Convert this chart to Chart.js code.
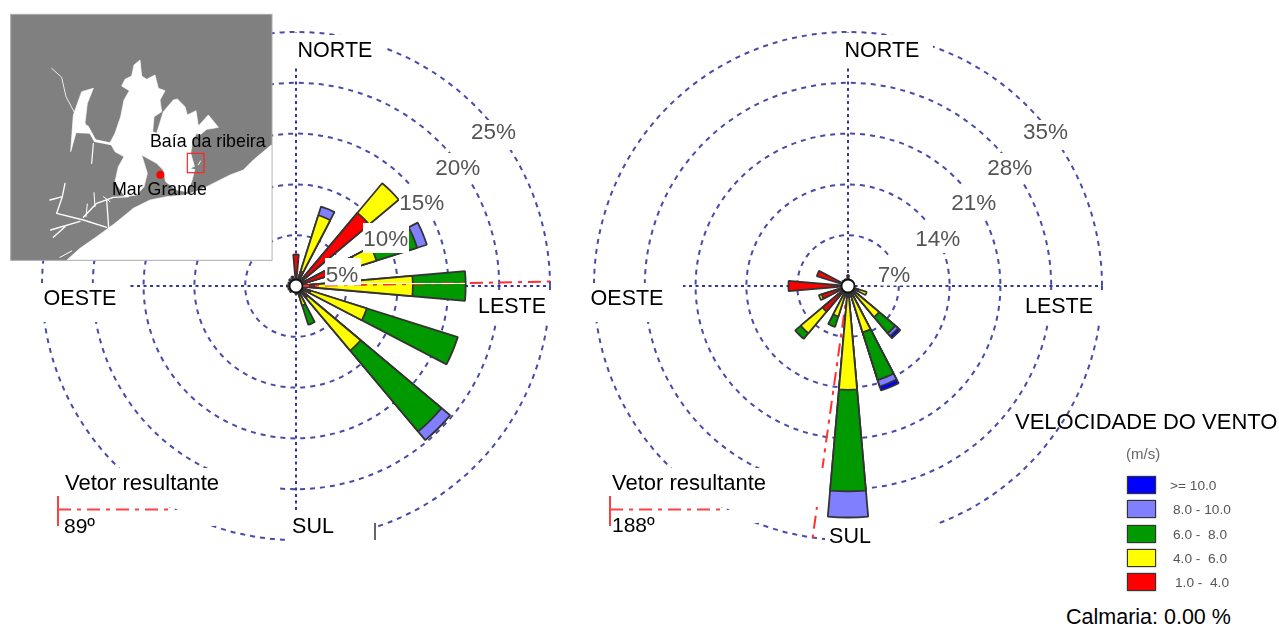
<!DOCTYPE html>
<html><head><meta charset="utf-8">
<style>
html,body{margin:0;padding:0;background:#fff;width:1279px;height:626px;overflow:hidden}
canvas{position:absolute;filter:blur(0.45px)}
.t{position:absolute;font-family:"Liberation Sans",Arial,sans-serif;white-space:pre;line-height:1}
.sw{position:absolute;width:27px;height:16px;border:1.5px solid #333;box-shadow:0 0 1.5px #777;box-sizing:content-box}
svg{position:absolute;left:0;top:0;filter:blur(0.5px)}
#legend .t{filter:blur(0.35px)}
</style>
<script src="https://cdn.jsdelivr.net/npm/chart.js@4"></script>
</head><body>
<canvas id="c1" width="520" height="520" style="left:36px;top:26px"></canvas>
<canvas id="c2" width="520" height="520" style="left:588px;top:26px"></canvas>

<svg width="290" height="270" viewBox="0 0 870 810">
<rect x="32" y="43" width="784" height="738" fill="#808080" stroke="#aaa" stroke-width="3"/>
<g fill="#fff" stroke="#fff" stroke-width="2" stroke-linejoin="round">
<path d="M202,779 L240,745 L290,710 L345,670 L400,625 L450,600 L500,590 L555,585 L600,570 L650,545 L690,525 L730,510 L760,480 L814,435 L814,779 Z"/>
<path d="M345,545 L355,500 L372,470 L345,455 L330,428 L345,400 L362,350 L372,300 L388,272 L365,258 L375,238 L395,228 L402,195 L420,180 L425,228 L440,238 L465,225 L475,265 L495,272 L480,300 L485,335 L462,350 L458,395 L470,400 L490,335 L520,300 L532,297 L555,320 L562,345 L588,332 L595,378 L625,345 L655,382 L640,385 L620,388 L600,405 L590,400 L578,422 L572,460 L585,505 L575,545 L560,575 L530,570 L497,545 L490,510 L470,490 L425,465 L442,520 L432,560 L410,585 L375,590 Z"/>
<path d="M245,275 L280,265 L262,310 L255,368 L270,400 L228,398 L212,455 L220,345 Z"/>
</g>
<g fill="none" stroke="#fff" stroke-linejoin="round" stroke-linecap="round">
<path d="M155,205 L185,232 L198,290 L222,335" stroke-width="2.5"/>
<path d="M262,380 L285,422 L335,432" stroke-width="8"/>
<path d="M280,430 L275,490" stroke-width="3.5"/>
<path d="M195,550 L187,590 L150,600 M187,590 L170,640 L250,660 L320,682" stroke-width="4"/>
<path d="M152,690 L240,664 M160,712 L195,680 M320,600 L326,682 M250,652 L290,610 L340,592 L385,590" stroke-width="4"/>
<path d="M282,578 L285,620 M262,612 L258,650 M310,590 L330,605" stroke-width="3"/>
<path d="M180,772 L215,753" stroke-width="3"/>
</g>
<path d="M572,505 L590,498 L604,480 L606,512 Z" fill="#808080"/>
<path d="M595,495 L602,482" stroke="#fff" stroke-width="3"/>
<rect x="562" y="460" width="50" height="58" fill="none" stroke="#f22" stroke-width="3.5"/>
<circle cx="481" cy="524" r="12" fill="#f00"/>
</svg>
<div class="t" style="left:150px;top:133px;font-size:17.8px">Baía da ribeira</div>
<div class="t" style="left:112px;top:181px;font-size:17.8px">Mar Grande</div>

<div class="t" style="left:1015px;top:411px;font-size:22px">VELOCIDADE DO VENTO</div>
<div class="t" style="left:1126px;top:446px;font-size:15px;color:#666;filter:blur(0.35px)">(m/s)</div>
<div class="t" style="left:1066px;top:607px;font-size:21.5px">Calmaria: 0.00 %</div>
<div id="legend"></div>

<script>
// Wind directions, clockwise from north
const directions = ['N','NNE','NE','ENE','E','ESE','SE','SSE','S','SSW','SW','WSW','W','WNW','NW','NNW'];
// Speed classes (m/s), lowest first
const bandNames  = ['1.0 -  4.0','4.0 -  6.0','6.0 -  8.0','8.0 - 10.0','>= 10.0'];
const bandColors = ['#ff0000','#ffff00','#009900','#8080ff','#0000ff'];

// Left rose: frequency (%) per direction and class
const leftRed    = [3.1,1.5,9.4,6.2,1.9,1.5,1.5,1.0,0.8,0.5,0.8,0.8,0.9,0.8,0.9,1.0];
const leftYellow = [0,5.8,3.8,2.1,9.6,5.8,6.8,1.0,0,0,0,0,0,0,0,0];
const leftGreen  = [0,0,0,4.2,5.2,9.4,10.4,2.0,0,0,0,0,0,0,0,0];
const leftLight  = [0,0.9,0,1.0,0,0,1.1,0,0,0,0,0,0,0,0,0];
const leftBlue   = [0,0,0,0,0,0,0,0,0,0,0,0,0,0,0,0];
const leftTicks  = [5,10,15,20,25];
const leftResultant = 89;

// Right rose: frequency (%) per direction and class
const rightRed    = [1.5,0.9,0.9,0.9,0.9,1.5,1.2,1.5,1.5,1.0,4.6,3.8,8.2,4.5,1.0,1.0];
const rightYellow = [0,0,0,0,0,1.2,4.4,5.2,12.8,3.4,3.9,0.4,0,0,0,0];
const rightGreen  = [0,0,0,0,0,0,2.9,6.9,14.0,1.5,1.0,0,0,0,0,0];
const rightLight  = [0,0,0,0,0,0,0.5,0.9,3.6,0,0,0,0,0,0,0];
const rightBlue   = [0,0,0,0,0,0,0.4,0.6,0,0,0,0,0,0,0,0];
const rightTicks  = [7,14,21,28,35];
const rightResultant = 188;

const GRID = '#4a4aa8', AXIS='#3535a0', WEDGE = 10, STEP = 22.5;
const FONT = '"Liberation Sans",Arial,sans-serif';

function buildRose(id, left, bands, ticks, resultant, cfg){
  // 32 slots: one gap then one wedge; the north wedge comes last and wraps past 360
  const order = directions.map((_,i)=>(i+1)%16);
  const labels = [];
  order.forEach(i=>{labels.push(''); labels.push(directions[i]);});
  const cum = new Array(16).fill(0);
  const datasets = bands.map((b,k)=>{
    b.forEach((v,i)=>cum[i]+=v);
    const data = [];
    order.forEach(i=>{data.push(0); data.push(b[i]>0?+cum[i].toFixed(2):0);});
    return {label:bandNames[k], data, backgroundColor:bandColors[k],
            borderColor:'#333', borderWidth:1.8,
            angle:c=>c.dataIndex%2? WEDGE : (c.dataIndex===0? STEP-WEDGE/2 : STEP-WEDGE)};
  });
  const X = v=>v-left, Y = v=>v-26;
  const maskFill = (ctx,list)=>{ctx.fillStyle='#fff';list.forEach(r=>ctx.fillRect(X(r[0]),Y(r[1]),r[2]-r[0],r[3]-r[1]));};
  const drawResultant = chart=>{
    const s = chart.scales.r, a=(resultant-90)*Math.PI/180, d=s.drawingArea;
    const ctx=chart.ctx; ctx.save();
    ctx.strokeStyle='#ff3030';ctx.lineWidth=2;ctx.setLineDash([13,6,4,6]);
    ctx.beginPath();ctx.moveTo(s.xCenter,s.yCenter);
    ctx.lineTo(s.xCenter+d*Math.cos(a),s.yCenter+d*Math.sin(a));ctx.stroke();ctx.restore();
  };
  const plugin = {
    id:'rose',
    beforeDatasetsDraw(chart){
      const ctx=chart.ctx; ctx.save();
      if(!cfg.vectorOnTop) drawResultant(chart);
      maskFill(ctx,cfg.under); ctx.restore();
    },
    afterDatasetsDraw(chart){
      const ctx=chart.ctx, s=chart.scales.r; ctx.save();
      if(cfg.vectorOnTop){
        drawResultant(chart);
        ctx.strokeStyle='#fff';ctx.lineWidth=1;ctx.beginPath();
        ctx.moveTo(X(360),Y(283.5));ctx.lineTo(X(465),Y(283.5));ctx.stroke();
      }
      maskFill(ctx,cfg.over);
      // hub
      ctx.beginPath();ctx.arc(s.xCenter,s.yCenter,6.5,0,Math.PI*2);
      ctx.fillStyle='#fff';ctx.fill();ctx.strokeStyle='#111';ctx.lineWidth=1.8;ctx.stroke();
      // percentage labels, placed from the scale along the NE spoke
      ctx.textAlign='center';ctx.textBaseline='middle';
      ctx.font='22.5px '+FONT;ctx.fillStyle='#555';
      ticks.forEach((t,i)=>{
        const p=s.getPointPositionForValue(4,t);
        ctx.fillText(t+'%',p.x+(i===0?10:18),p.y+26);
      });
      ctx.fillStyle='#000';ctx.font='21.5px '+FONT;
      cfg.names.forEach(n=>ctx.fillText(n[0],X(n[1]),Y(n[2])));
      // resultant legend
      ctx.font='22px '+FONT;ctx.textAlign='left';
      ctx.fillText('Vetor resultante',X(cfg.vx+cfg.tx),Y(484));
      ctx.font='21px '+FONT;
      ctx.fillText(resultant+'º',X(cfg.vx+cfg.dx),Y(cfg.degY));
      ctx.strokeStyle='#ff4040';ctx.lineWidth=2;
      ctx.beginPath();ctx.moveTo(X(cfg.vx),Y(496));ctx.lineTo(X(cfg.vx),Y(526));ctx.stroke();
      ctx.setLineDash([13,6,4,6]);
      ctx.beginPath();ctx.moveTo(X(cfg.vx),Y(509.5));ctx.lineTo(X(cfg.vend),Y(509.5));ctx.stroke();
      ctx.setLineDash([]);
      if(cfg.tick){ctx.strokeStyle='#333';ctx.lineWidth=1.5;ctx.beginPath();ctx.moveTo(X(cfg.tick),Y(523));ctx.lineTo(X(cfg.tick),Y(540));ctx.stroke();}
      ctx.restore();
    }
  };
  return new Chart(document.getElementById(id),{
    type:'polarArea',
    data:{labels,datasets},
    plugins:[plugin],
    options:{
      responsive:false,animation:false,layout:{padding:6},
      plugins:{legend:{display:false},tooltip:{enabled:false}},
      scales:{r:{
        min:0,max:ticks[ticks.length-1],
        ticks:{stepSize:ticks[0],display:false},
        pointLabels:{display:false},
        grid:{circular:true,color:GRID,lineWidth:2},
        border:{dash:[5,5]},
        angleLines:{display:true,color:AXIS,borderDash:[3,3.5],
          lineWidth:c=>c.index%8===0?2:0}
      }}
    }
  });
}

buildRose('c1',36,[leftRed,leftYellow,leftGreen,leftLight,leftBlue],leftTicks,leftResultant,{
  vectorOnTop:true,vx:58,vend:170,tx:7,dx:6,degY:527,tick:375,
  under:[[58,468,278,507],[58,510,215,526],[287,510,375,546],[37,283,130,322],[290,35,385,68],[477,290,556,325]],
  over:[[325,258,361,285.5],[363,223,409,253],[399,186,447,217],[436,153,482,183],[472,120,518,150]],
  names:[['NORTE',335,51],['OESTE',80,299],['LESTE',512,307],['SUL',313,527]]
});
buildRose('c2',588,[rightRed,rightYellow,rightGreen,rightLight,rightBlue],rightTicks,rightResultant,{
  vectorOnTop:false,vx:610,vend:725,tx:2,dx:2,degY:526,
  under:[[610,468,832,507],[610,510,758,523],[825,520,935,546],[589,283,683,322],[840,35,933,68],[1024,290,1108,325],
         [878,258,913,285.5],[917,223,962,253],[952,186,1000,217],[988,153,1036,183],[1024,120,1072,150]],
  over:[],
  names:[['NORTE',882,51],['OESTE',627,299],['LESTE',1059,307],['SUL',850,537]]
});

// Legend
const legendRows = [4,3,2,1,0];
const legendEl = document.getElementById('legend');
legendRows.forEach((k,i)=>{
  const y=476+i*24.3;
  const s=document.createElement('div');s.className='sw';
  s.style.left='1127px';s.style.top=y+'px';s.style.background=bandColors[k];legendEl.appendChild(s);
  const t=document.createElement('div');t.className='t';t.textContent=bandNames[k];
  t.style.cssText+='left:'+(k===4?1170:k===0?1175:1173)+'px;top:'+(y+3)+'px;font-size:13.7px;color:#555';
  legendEl.appendChild(t);
});
</script>
</body></html>
